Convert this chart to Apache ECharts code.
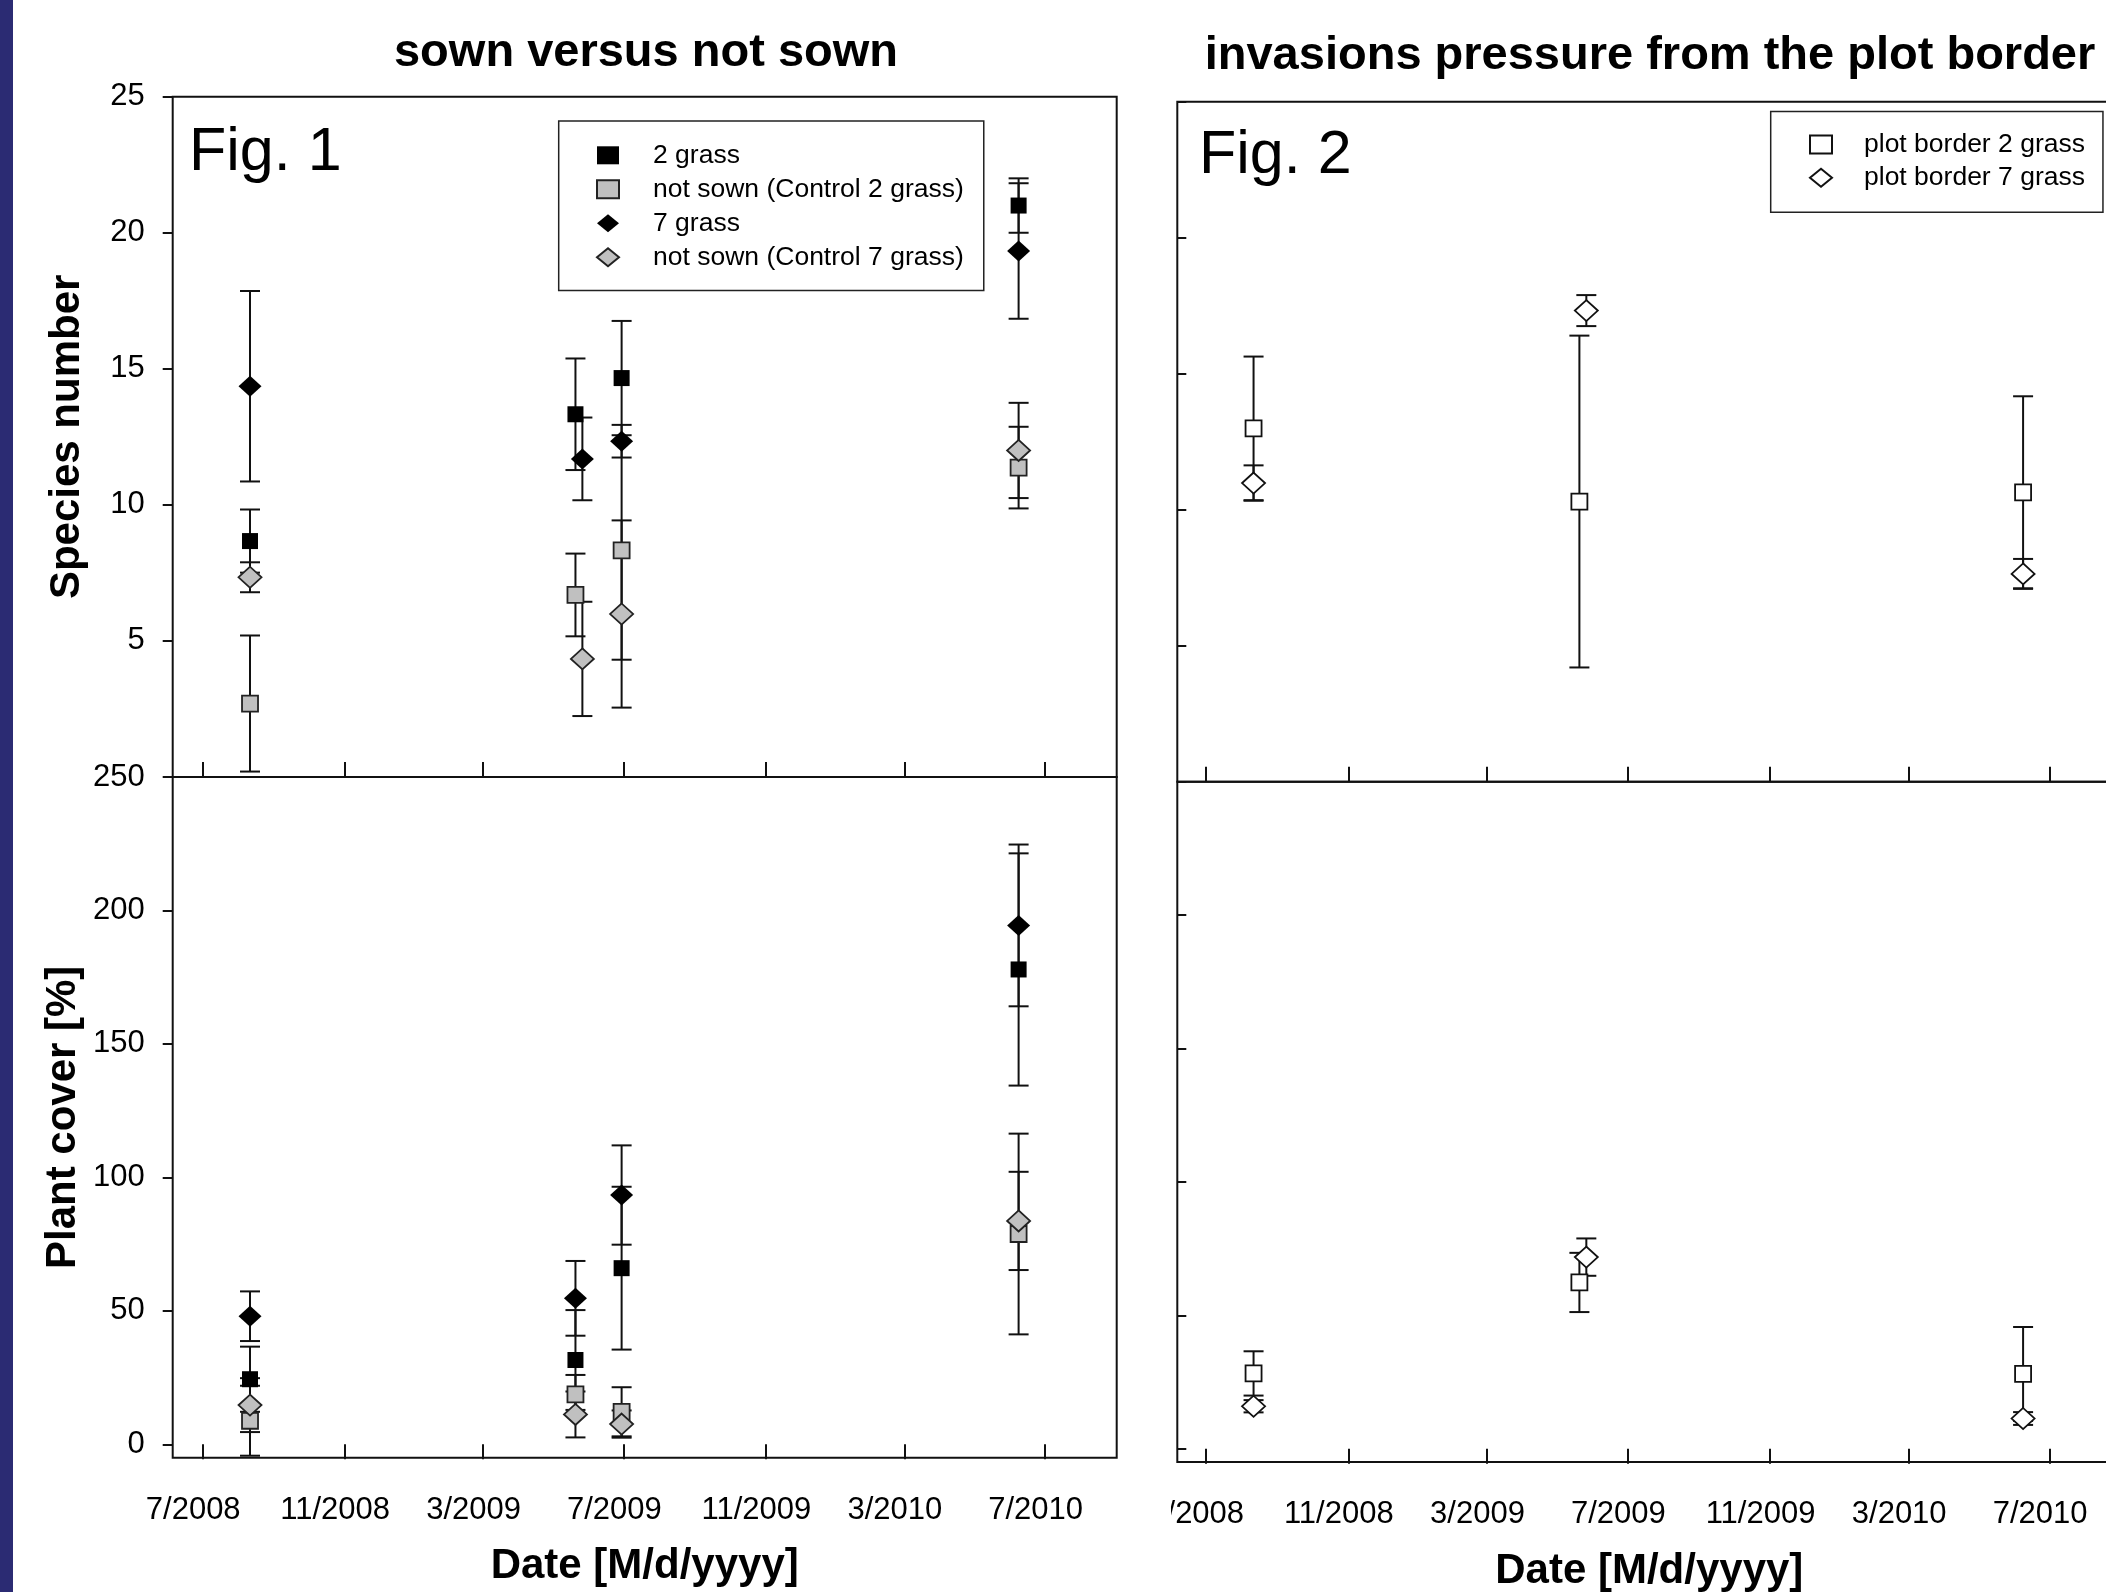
<!DOCTYPE html>
<html>
<head>
<meta charset="utf-8">
<script src="https://cdn.jsdelivr.net/npm/echarts@6/dist/echarts.min.js"></script>
<style>html,body{margin:0;padding:0;background:#fff}#c{width:2106px;height:1592px}</style>
</head>
<body>
<div id="c"></div>
<script>
// ---------- data ----------
const tickDates = ['2008-07-01','2008-11-01','2009-03-01','2009-07-01','2009-11-01','2010-03-01','2010-07-01'];
const tickLabels = ['7/2008','11/2008','3/2009','7/2009','11/2009','3/2010','7/2010'];
const speciesTicks = [0,5,10,15,20,25];
const coverTicks = [0,50,100,150,200,250];

// Fig. 1 sampling dates
const sownSquareDates  = ['2008-08-11','2009-05-20','2009-06-29','2010-06-08'];
const sownDiamondDates = ['2008-08-11','2009-05-26','2009-06-29','2010-06-08'];
const coverDates       = ['2008-08-11','2009-05-20','2009-06-29','2010-06-08'];
// Fig. 2 sampling dates
const borderSquareDates  = ['2008-08-11','2009-05-20','2010-06-08'];
const borderDiamondDates = ['2008-08-11','2009-05-26','2010-06-08'];

// Species number (Fig. 1)
const spTwo      = [8.67, 13.33, 14.66, 21.0];
const spTwoErr   = [1.16, 2.05, 2.1, 1.0];
const spCtl2     = [2.70, 6.69, 8.33, 11.37];
const spCtl2Err  = [2.5, 1.52, 4.02, 1.5];
const spSeven    = [14.36, 11.69, 12.34, 19.33];
const spSevenErr = [3.5, 1.52, 0.6, 2.49];
const spCtl7     = [7.34, 4.34, 5.99, 12.0];
const spCtl7Err  = [0.55, 2.1, 3.44, 1.75];

// Plant cover (Fig. 1)
const cvTwo      = [24.4, 31.6, 66.0, 177.9];
const cvTwoErr   = [12.2, 18.7, 30.5, 43.5];
const cvCtl2     = [8.85, 18.7, 12.2, 78.8];
const cvCtl2Err  = [13.1, 7.3, 9.2, 37.6];
const cvSeven    = [48.0, 54.7, 93.4, 194.4];
const cvSevenErr = [9.3, 14.0, 18.6, 30.3];
const cvCtl7     = [14.7, 11.2, 7.6, 83.7];
const cvCtl7Err  = [10.1, 8.6, 5.1, 18.4];

// Fig. 2 plot border
const bSp2     = [12.99, 10.30, 10.64];
const bSp2Err  = [2.64, 6.1, 3.53];
const bSp7     = [10.98, 17.32, 7.64];
const bSp7Err  = [0.65, 0.57, 0.55];
const bCv2     = [28.2, 62.3, 28.0];
const bCv2Err  = [8.3, 11.1, 17.6];
const bCv7     = [15.9, 71.8, 11.3];
const bCv7Err  = [2.3, 7.0, 2.4];

const names1 = ['2 grass','not sown (Control 2 grass)','7 grass','not sown (Control 7 grass)'];
const names2 = ['plot border 2 grass','plot border 7 grass'];

// ---------- helpers ----------
const FONT = "'Liberation Sans', Arial, sans-serif";
const INK = '#111';
function t(s){const p=s.split('-');return Date.UTC(+p[0],+p[1]-1,+p[2]);}
function pts(d,v){return d.map((x,i)=>[t(x),v[i]]);}
function errs(d,v,e){return d.map((x,i)=>[t(x),v[i]-e[i],v[i]+e[i]]);}
const tickTs = tickDates.map(t);
function fmtDate(v){const i=tickTs.indexOf(v);return i>=0?tickLabels[i]:'';}

function renderErr(params, api){
  const x=api.value(0), lo=api.value(1), hi=api.value(2);
  const a=api.coord([x,hi]), b=api.coord([x,lo]);
  const w=10, st={stroke:INK,lineWidth:2};
  return {type:'group',children:[
    {type:'line',shape:{x1:a[0],y1:a[1],x2:b[0],y2:b[1]},style:st},
    {type:'line',shape:{x1:a[0]-w,y1:a[1],x2:a[0]+w,y2:a[1]},style:st},
    {type:'line',shape:{x1:b[0]-w,y1:b[1],x2:b[0]+w,y2:b[1]},style:st}
  ]};
}
function errSeries(name,xi,yi,data){
  return {type:'custom',name:name,xAxisIndex:xi,yAxisIndex:yi,renderItem:renderErr,
    encode:{x:0,y:[1,2]},data:data,z:2,silent:true};
}
const SQ=[16,16], DI=[23,21];
function sc(name,xi,yi,data,symbol,fill,border){
  return {type:'scatter',name:name,xAxisIndex:xi,yAxisIndex:yi,data:data,
    symbol:symbol,symbolSize:symbol==='rect'?SQ:DI,symbolKeepAspect:symbol==='rect',
    itemStyle:{color:fill,borderColor:border,borderWidth:border?1.8:0,opacity:1},z:5};
}

// ---------- axes ----------
const lMin=t('2008-06-05'), lMax=t('2010-09-01');
const rMin=t('2008-06-06'), rMax=t('2010-09-01');
const tickStyle={color:INK,width:2};
function xAx(grid,min,max,labels){
  return {type:'value',gridIndex:grid,min:min,max:max,
    axisLine:{show:false},splitLine:{show:false},
    axisTick:{show:true,inside:!labels,length:15,customValues:tickTs,lineStyle:tickStyle},
    axisLabel:labels?{show:true,customValues:tickTs,formatter:fmtDate,fontSize:31,fontFamily:FONT,color:'#000',margin:37,padding:[0,19,0,0]}:{show:false},
    name:labels?'Date [M/d/yyyy]':'',nameLocation:'middle',nameGap:labels?88:0,
    nameTextStyle:{fontSize:42,fontWeight:'bold',fontFamily:FONT,color:'#000'}};
}
function yAx(grid,min,max,ticks,left,name,gap,hideMin){
  return {type:'value',gridIndex:grid,min:min,max:max,
    axisLine:{show:false},splitLine:{show:false},
    axisTick:{show:true,inside:!left,length:left?10:9,customValues:ticks,lineStyle:tickStyle},
    axisLabel:left?{show:true,customValues:ticks,showMinLabel:!hideMin,fontSize:31,fontFamily:FONT,color:'#000',margin:28}:{show:false},
    name:name||'',nameLocation:'middle',nameRotate:90,nameGap:gap||0,
    nameTextStyle:{fontSize:42,fontWeight:'bold',fontFamily:FONT,color:'#000'}};
}
const gBase={show:true,borderColor:INK,borderWidth:2,backgroundColor:'transparent',outerBoundsMode:'none',containLabel:false};

const option={
  animation:false,
  backgroundColor:'#fff',
  textStyle:{fontFamily:FONT},
  title:[
    {text:'sown versus not sown',left:641,top:25,textAlign:'center',textStyle:{fontSize:47,fontWeight:'bold',fontFamily:FONT,color:'#000'}},
    {text:'invasions pressure from the plot border',left:1645,top:28,textAlign:'center',textStyle:{fontSize:47,fontWeight:'bold',fontFamily:FONT,color:'#000'}},
    {text:'Fig. 1',left:184,top:118,textStyle:{fontSize:61,fontWeight:'normal',fontFamily:FONT,color:'#000'}},
    {text:'Fig. 2',left:1194,top:121,textStyle:{fontSize:61,fontWeight:'normal',fontFamily:FONT,color:'#000'}}
  ],
  grid:[
    Object.assign({left:172.7,top:96.7,width:944,height:680.3},gBase),
    Object.assign({left:172.7,top:777,width:944,height:680.7},gBase),
    Object.assign({left:1177.3,top:101.7,width:944,height:680},gBase),
    Object.assign({left:1177.3,top:781.7,width:944,height:680.3},gBase)
  ],
  xAxis:[ xAx(0,lMin,lMax,false), xAx(1,lMin,lMax,true), xAx(2,rMin,rMax,false), xAx(3,rMin,rMax,true) ],
  yAxis:[
    yAx(0,0,25,speciesTicks,true,'Species number',84,true),
    yAx(1,-5,250,coverTicks,true,'Plant cover [%]',88,false),
    yAx(2,0,25,speciesTicks,false),
    yAx(3,-5,250,coverTicks,false)
  ],
  legend:[
    {data:names1,orient:'vertical',left:558.7,top:120.9,padding:[20.9,20,19.6,37.3],
     itemWidth:22,itemHeight:18,itemGap:7,borderColor:'#222',borderWidth:1.5,selectedMode:false,
     textStyle:{fontSize:26.5,fontFamily:FONT,color:'#000',lineHeight:26,padding:[0,0,0,29]}},
    {data:names2,orient:'vertical',left:1770.7,top:111.5,padding:[19.5,18,20.9,38.3],
     itemWidth:22,itemHeight:18,itemGap:6.3,borderColor:'#222',borderWidth:1.5,selectedMode:false,
     textStyle:{fontSize:26.5,fontFamily:FONT,color:'#000',lineHeight:26,padding:[0,0,0,27]}}
  ],
  graphic:[
    {type:'rect',left:0,top:0,shape:{x:0,y:0,width:13,height:1592},style:{fill:'#2b2b73'},z:100},
    {type:'rect',shape:{x:1119,y:1482,width:52,height:60},style:{fill:'#fff'},z:100}
  ],
  series:[
    errSeries('e1',0,0,errs(sownSquareDates,spTwo,spTwoErr)),
    errSeries('e2',0,0,errs(sownSquareDates,spCtl2,spCtl2Err)),
    errSeries('e3',0,0,errs(sownDiamondDates,spSeven,spSevenErr)),
    errSeries('e4',0,0,errs(sownDiamondDates,spCtl7,spCtl7Err)),
    errSeries('e5',1,1,errs(coverDates,cvTwo,cvTwoErr)),
    errSeries('e6',1,1,errs(coverDates,cvCtl2,cvCtl2Err)),
    errSeries('e7',1,1,errs(coverDates,cvSeven,cvSevenErr)),
    errSeries('e8',1,1,errs(coverDates,cvCtl7,cvCtl7Err)),
    errSeries('e9',2,2,errs(borderSquareDates,bSp2,bSp2Err)),
    errSeries('e10',2,2,errs(borderDiamondDates,bSp7,bSp7Err)),
    errSeries('e11',3,3,errs(borderSquareDates,bCv2,bCv2Err)),
    errSeries('e12',3,3,errs(borderDiamondDates,bCv7,bCv7Err)),
    sc(names1[0],0,0,pts(sownSquareDates,spTwo),'rect','#000',null),
    sc(names1[1],0,0,pts(sownSquareDates,spCtl2),'rect','#c0c0c0','#222'),
    sc(names1[2],0,0,pts(sownDiamondDates,spSeven),'diamond','#000',null),
    sc(names1[3],0,0,pts(sownDiamondDates,spCtl7),'diamond','#c0c0c0','#222'),
    sc(names1[0],1,1,pts(coverDates,cvTwo),'rect','#000',null),
    sc(names1[1],1,1,pts(coverDates,cvCtl2),'rect','#c0c0c0','#222'),
    sc(names1[2],1,1,pts(coverDates,cvSeven),'diamond','#000',null),
    sc(names1[3],1,1,pts(coverDates,cvCtl7),'diamond','#c0c0c0','#222'),
    sc(names2[0],2,2,pts(borderSquareDates,bSp2),'rect','#fff','#111'),
    sc(names2[1],2,2,pts(borderDiamondDates,bSp7),'diamond','#fff','#111'),
    sc(names2[0],3,3,pts(borderSquareDates,bCv2),'rect','#fff','#111'),
    sc(names2[1],3,3,pts(borderDiamondDates,bCv7),'diamond','#fff','#111')
  ]
};
const chart=echarts.init(document.getElementById('c'),null,{renderer:'canvas'});
chart.setOption(option);
</script>
</body>
</html>
